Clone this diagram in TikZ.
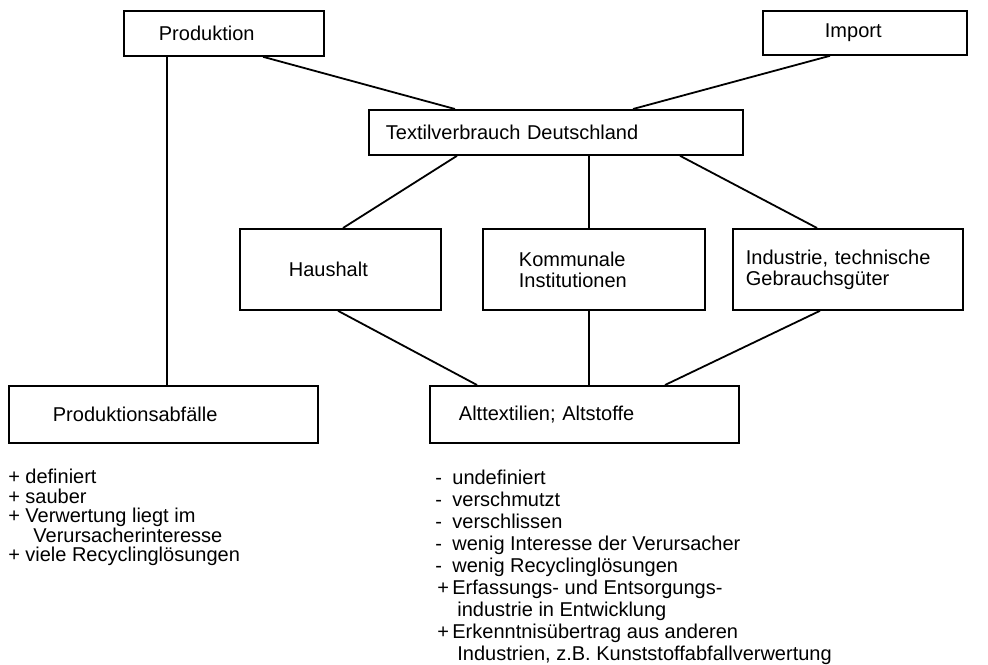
\documentclass[tikz,border=0pt]{standalone}
\usepackage{fontspec}
\setmainfont{Liberation Sans}
\usetikzlibrary{calc}

\tikzset{
  kasten/.style={draw, line width=0.9pt, anchor=north west, align=left, inner ysep=0pt},
  linie/.style={line width=0.9pt},
  liste/.style={anchor=north west, align=left, inner sep=0pt},
}

\begin{document}
\begin{tikzpicture}[x=0.5pt,y=-0.5pt,font=\fontsize{10}{10.5}\selectfont]
	\useasboundingbox (0,0) rectangle (988,664);
	
	%boxes
	\node[kasten, text width=65pt, inner xsep=17.5pt, minimum height=22.5pt] (prod) at (123,10) {Produktion};
	\node[kasten, text width=40pt, inner xsep=31pt, minimum height=22pt] (import) at (762,10) {Import};
	\node[kasten, text width=170pt, inner xsep=8.5pt, minimum height=22.5pt] (textil) at (368,109) {Textilverbrauch Deutschland};
	\node[kasten, text width=51.5pt, inner xsep=24.5pt, minimum height=40.5pt] (haus) at (239,228) {Haushalt};
	\node[kasten, text width=75pt, inner xsep=18pt, minimum height=40.5pt] (komm) at (482,228) {Kommunale\\Institutionen};
	\node[kasten, text width=102pt, inner xsep=6.5pt, minimum height=40.5pt] (indu) at (732,228) {Industrie, technische\\Gebrauchsgüter};
	\node[kasten, text width=110.5pt, inner xsep=22pt, minimum height=28.5pt] (abf) at (8,385) {Produktionsabfälle};
	\node[kasten, text width=125.5pt, inner xsep=14.5pt, minimum height=28.5pt] (alt) at (429,385) {Alttextilien; Altstoffe};
	
	%connectors
	\draw[linie] ($(prod.south west)+(44,0)$) -- ($(abf.north west)+(159,0)$); %Produktion-Abfall
	\draw[linie] ($(prod.south west)+(140,0)$) -- ($(textil.north west)+(87,0)$); %Produktion-Verbrauch
	\draw[linie] ($(import.south west)+(68,0)$) -- ($(textil.north west)+(265,0)$); %Import-Verbrauch
	\draw[linie] ($(textil.south west)+(89,0)$) -- ($(haus.north west)+(104,0)$); %Verbrauch-Haushalt
	\draw[linie] ($(textil.south west)+(221,0)$) -- ($(komm.north west)+(107,0)$); %Verbrauch-Kommunal
	\draw[linie] ($(textil.south west)+(312,0)$) -- ($(indu.north west)+(85,0)$); %Verbrauch-Industrie
	\draw[linie] ($(haus.south west)+(99,0)$) -- ($(alt.north west)+(48,0)$); %Haushalt-Alt
	\draw[linie] ($(komm.south west)+(107,0)$) -- ($(alt.north west)+(160,0)$); %Kommunal-Alt
	\draw[linie] ($(indu.south west)+(88,0)$) -- ($(alt.north west)+(236,0)$); %Industrie-Alt
	
	%lists
	\node[liste, font=\fontsize{10}{9.75}\selectfont] (plus) at (8,469) {%
		\makebox[8.5pt][l]{+}definiert\\
		\makebox[8.5pt][l]{+}sauber\\
		\makebox[8.5pt][l]{+}Verwertung liegt im\\
		\hspace*{12.5pt}Verursacherinteresse\\
		\makebox[8.5pt][l]{+}viele Recyclinglösungen};
	\node[liste, font=\fontsize{10}{10.95}\selectfont] (minus) at (435,470) {%
		\makebox[8.5pt][l]{-}undefiniert\\
		\makebox[8.5pt][l]{-}verschmutzt\\
		\makebox[8.5pt][l]{-}verschlissen\\
		\makebox[8.5pt][l]{-}wenig Interesse der Verursacher\\
		\makebox[8.5pt][l]{-}wenig Recyclinglösungen\\
		\makebox[8.5pt][l]{\hspace{1pt}+}Erfassungs- und Entsorgungs-\\
		\hspace*{11pt}industrie in Entwicklung\\
		\makebox[8.5pt][l]{\hspace{1pt}+}Erkenntnisübertrag aus anderen\\
		\hspace*{11pt}Industrien, z.B. Kunststoffabfallverwertung};
\end{tikzpicture}
\end{document}
